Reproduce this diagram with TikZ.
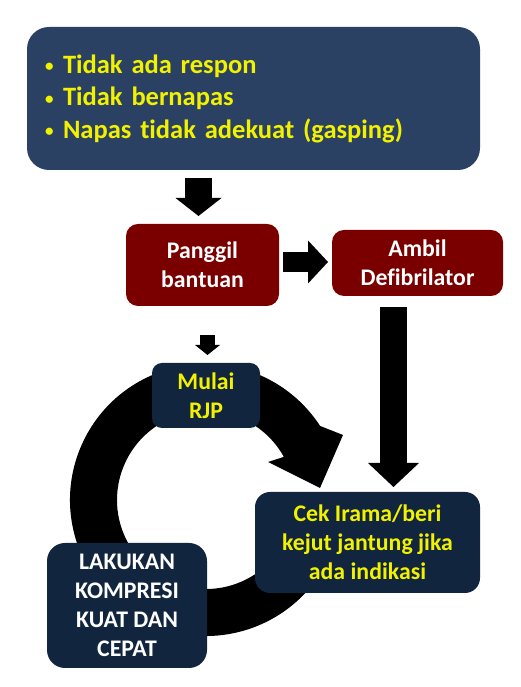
\documentclass[tikz,border=0pt]{standalone}
\usepackage{fontspec}
\setmainfont{Carlito}[RawFeature=-liga]
\usetikzlibrary{arrows.meta,calc}
\definecolor{topblue}{HTML}{2B4163}
\definecolor{boxred}{HTML}{7A0000}
\definecolor{boxnavy}{HTML}{12253F}
\definecolor{txtyellow}{HTML}{F2F200}
\newcommand{\bul}{\makebox[20pt][l]{\hspace{2pt}\raisebox{1.5pt}{\fontsize{17}{17}\selectfont •}}}
\begin{document}
\begin{tikzpicture}[x=1pt,y=1pt,
  box/.style={inner sep=0pt, align=center, font=\bfseries\fontsize{23.8}{29}\selectfont},
  redbox/.style={box, fill=boxred, text=white, rounded corners=12pt},
  navybox/.style={box, fill=boxnavy, rounded corners=14pt},
  blockarrow/.style n args={3}{draw=black, line width=#1,
     -{Triangle[width=#2, length=#3, line width=0pt]}}
]
\useasboundingbox (0,0) rectangle (520,687);

% top box
\node[box, fill=topblue, rounded corners=22pt, minimum width=453pt, minimum height=143pt,
      text width=421pt, inner xsep=16pt, align=left, text=txtyellow,
      font=\bfseries\fontsize{26.5}{32.5}\selectfont] (top) at (253.5,588.5)
  {\bul Tidak ada respon\\
   \bul Tidak bernapas\\
   \bul Napas tidak adekuat (gasping)};

% red boxes
\node[redbox, minimum width=153pt, minimum height=82pt] (pang) at (202.5,422) {Panggil\\bantuan};
\node[redbox, minimum width=171pt, minimum height=66pt] (ambil) at (417.5,424) {Ambil\\Defibrilator};

% circular arrow
\coordinate (C) at (206,187);
\fill[black] ($(C)+(-25:136)$) arc[start angle=-25, end angle=-327, radius=136]
  -- (343,252) -- (320,199) -- (268,225)
  -- ($(C)+(29:89)$) arc[start angle=29, end angle=335, radius=89] -- cycle;

% navy boxes
\node[navybox, text=txtyellow, rounded corners=10pt, minimum width=108pt, minimum height=65pt] (mulai) at (206,291.5) {Mulai\\RJP};
\node[navybox, text=txtyellow, rounded corners=15pt, minimum width=225pt, minimum height=101pt] (cek) at (367.5,144.5) {Cek Irama/beri\\kejut jantung jika\\ada indikasi};
\node[navybox, text=white, rounded corners=18pt, minimum width=160pt, minimum height=125pt] (lak) at (127,81.5) {LAKUKAN\\KOMPRESI\\KUAT DAN\\CEPAT};

% block arrows
\coordinate (a1s) at (198.5,509); \coordinate (a1e) at (198.5,471);
\coordinate (a2s) at (283,425);   \coordinate (a2e) at (328,425);
\coordinate (a3s) at (393.5,380); \coordinate (a3e) at (393.5,200);
\coordinate (a4s) at (207.5,352); \coordinate (a4e) at (207.5,332);
\draw[blockarrow={27pt}{46pt}{18pt}] (a1s) -- (a1e);
\draw[blockarrow={20pt}{43pt}{20pt}] (a2s) -- (a2e);
\draw[blockarrow={27pt}{51pt}{24pt}] (a3s) -- (a3e);
\draw[blockarrow={15pt}{25pt}{10pt}] (a4s) -- (a4e);
\end{tikzpicture}
\end{document}
